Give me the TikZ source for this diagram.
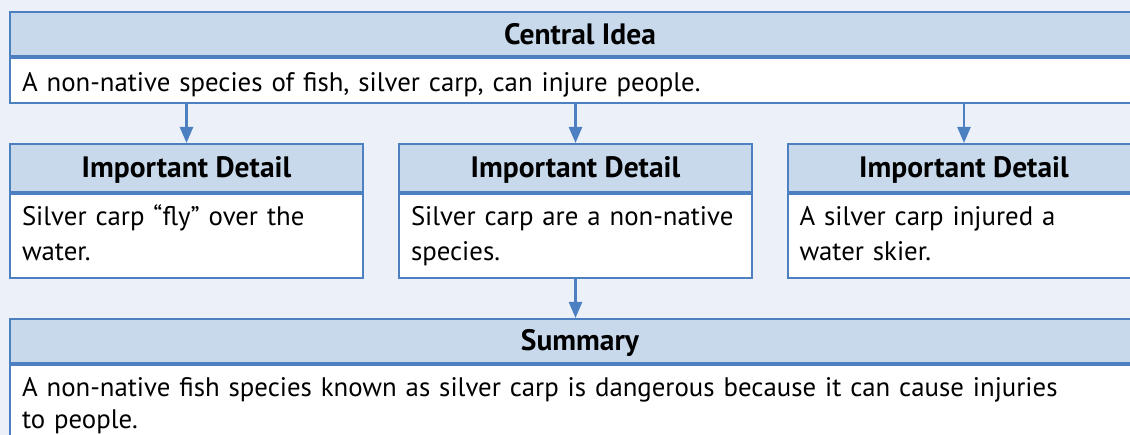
\documentclass[tikz,border=0pt]{standalone}
\usepackage{fontspec}
\setmainfont{PT Sans}
\usetikzlibrary{arrows.meta}
\definecolor{bordercol}{RGB}{77,128,193}
\definecolor{headfill}{RGB}{200,217,236}
\definecolor{bgcol}{RGB}{236,241,249}
\newcommand\topstrut{\rule{0pt}{23pt}}
\newcommand\botstrut{\rule[-8pt]{0pt}{8pt}}
\tikzset{
  boxline/.style={draw=bordercol, line width=2pt},
  headbox/.style={boxline, fill=headfill, anchor=north west, inner sep=0pt,
    text height=25pt, text depth=5pt,
    font=\fontsize{29.5}{32}\selectfont\bfseries},
  bodybox/.style={boxline, fill=white, anchor=north west, inner xsep=12pt, inner ysep=0pt,
    align=left, font=\fontsize{26.8}{35}\selectfont},
  arr/.style={draw=bordercol, line width=2.5pt, -{Triangle[width=13pt,length=16pt]}},
}
\begin{document}
\begin{tikzpicture}[x=1pt,y=-1pt]
\fill[bgcol] (0,0) rectangle (1130,435);
\useasboundingbox (0,0) rectangle (1130,435);
\clip (0,0) rectangle (1130,435);
% central idea
\node[headbox, minimum width=1140pt, minimum height=43.5pt] (cih) at (9,11.5) {Central Idea};
\node[bodybox, minimum width=1140pt, minimum height=45pt, text width=1116pt] (cib) at (cih.south west) {\rule{0pt}{27pt}A non-native species of fish, silver carp, can injure people.\rule[-4pt]{0pt}{4pt}};
% details
\node[headbox, minimum width=353pt, minimum height=48pt] (d1h) at (9,143) {Important Detail};
\node[bodybox, minimum width=353pt, minimum height=84pt, text width=329pt] (d1b) at (d1h.south west) {\topstrut Silver carp “fly” over the\\water.\botstrut};
\node[headbox, minimum width=353pt, minimum height=48pt] (d2h) at (398,143) {Important Detail};
\node[bodybox, minimum width=353pt, minimum height=84pt, text width=329pt] (d2b) at (d2h.south west) {\topstrut Silver carp are a non-native\\species.\botstrut};
\node[headbox, minimum width=353pt, minimum height=48pt] (d3h) at (786.5,143) {Important Detail};
\node[bodybox, minimum width=353pt, minimum height=84pt, text width=329pt] (d3b) at (d3h.south west) {\topstrut A silver carp injured a\\water skier.\botstrut};
% summary
\node[headbox, minimum width=1140pt, minimum height=44pt] (sh) at (9,318) {Summary};
\node[bodybox, minimum width=1140pt, minimum height=80pt, text width=1116pt, font=\fontsize{26.8}{32}\selectfont] (sb) at (sh.south west) {\topstrut A non-native fish species known as silver carp is dangerous because it can cause injuries\\to people.\botstrut};
% arrows
\draw[arr] (cib.south -| d1h.north) -- (d1h.north);
\draw[arr] (cib.south -| d2h.north) -- (d2h.north);
\draw[arr] (cib.south -| d3h.north) -- (d3h.north);
\draw[arr] (d2b.south) -- (d2b.south |- sh.north);
\end{tikzpicture}
\end{document}
